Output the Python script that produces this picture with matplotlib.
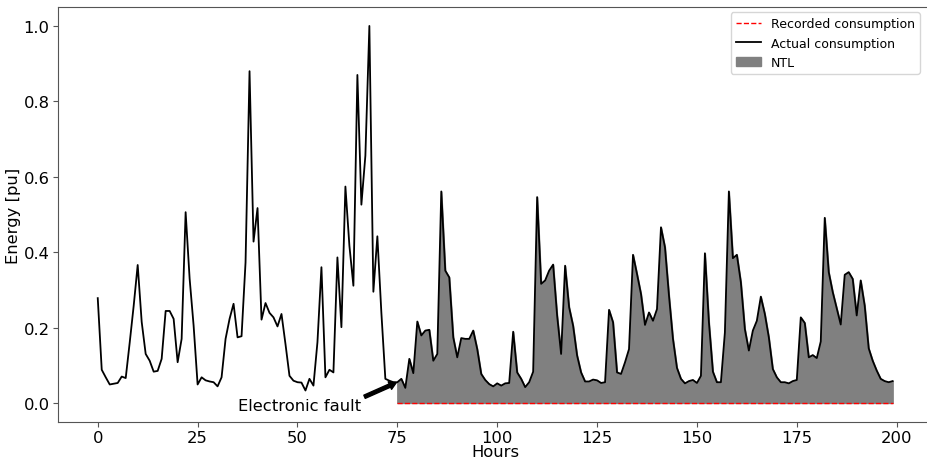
import numpy as np
import matplotlib
matplotlib.use('Agg')
import matplotlib.pyplot as plt

# actual consumption, hours 0..199
actual = [0.278, 0.088, 0.068, 0.049, 0.051, 0.053, 0.070, 0.066, 0.160, 0.258,
          0.366, 0.215, 0.130, 0.112, 0.083, 0.085, 0.117, 0.244, 0.244, 0.223,
          0.108, 0.170, 0.506, 0.330, 0.205, 0.049, 0.068, 0.060, 0.057, 0.055,
          0.044, 0.068, 0.170, 0.223, 0.263, 0.174, 0.177, 0.373, 0.880, 0.428,
          0.517, 0.221, 0.265, 0.239, 0.227, 0.203, 0.236, 0.156, 0.072, 0.059,
          0.055, 0.054, 0.033, 0.064, 0.046, 0.161, 0.360, 0.068, 0.088, 0.081,
          0.386, 0.201, 0.574, 0.417, 0.311, 0.870, 0.526, 0.656, 1.000, 0.295,
          0.442, 0.240, 0.064, 0.059, 0.055, 0.055, 0.064, 0.040, 0.117, 0.079,
          0.216, 0.179, 0.192, 0.194, 0.112, 0.130, 0.561, 0.351, 0.333, 0.174,
          0.121, 0.172, 0.170, 0.170, 0.192, 0.143, 0.077, 0.061, 0.050, 0.044,
          0.052, 0.046, 0.052, 0.053, 0.189, 0.081, 0.064, 0.042, 0.055, 0.083,
          0.546, 0.316, 0.325, 0.351, 0.367, 0.232, 0.130, 0.364, 0.254, 0.205,
          0.126, 0.081, 0.057, 0.057, 0.062, 0.060, 0.053, 0.055, 0.247, 0.214,
          0.081, 0.077, 0.108, 0.143, 0.393, 0.342, 0.289, 0.207, 0.240, 0.218,
          0.249, 0.466, 0.413, 0.285, 0.170, 0.093, 0.064, 0.052, 0.058, 0.061,
          0.053, 0.072, 0.397, 0.214, 0.083, 0.055, 0.055, 0.187, 0.561, 0.384,
          0.393, 0.320, 0.196, 0.139, 0.192, 0.218, 0.282, 0.236, 0.174, 0.090,
          0.068, 0.055, 0.055, 0.052, 0.058, 0.061, 0.227, 0.212, 0.121, 0.127,
          0.119, 0.163, 0.491, 0.347, 0.294, 0.251, 0.208, 0.340, 0.347, 0.329,
          0.232, 0.325, 0.258, 0.145, 0.112, 0.086, 0.064, 0.058, 0.055, 0.058]
hours = np.arange(len(actual))
actual = np.array(actual)

fault_hour = 75
recorded = np.zeros(len(actual) - fault_hour)

fs = 11.8

fig = plt.figure(figsize=(9.28, 4.6), dpi=100)
ax = fig.add_axes([58 / 928, 37.2 / 460, (932.4 - 58) / 928, 414.7 / 460])

ax.plot(hours[fault_hour:], recorded, 'r--', lw=1, label='Recorded consumption')
ax.plot(hours, actual, 'k-', lw=1.3, label='Actual consumption')
ax.fill_between(hours[fault_hour:], recorded, actual[fault_hour:], color='gray', label='NTL')

ax.annotate('Electronic fault', xy=(fault_hour, actual[fault_hour]), xytext=(35, -0.02),
            fontsize=fs,
            arrowprops=dict(facecolor='black', width=2.5, headwidth=6, headlength=5, shrink=0.03))

ax.set_xlabel('Hours', fontsize=fs, labelpad=-1)
ax.set_ylabel('Energy [pu]', fontsize=fs, labelpad=2)
ax.set_xticks([0, 25, 50, 75, 100, 125, 150, 175, 200])
ax.tick_params(labelsize=fs, color='#555555', pad=2.5)
for s in ax.spines.values():
    s.set_color('#555555')
ax.spines['right'].set_visible(False)

ax.legend(loc='upper right', bbox_to_anchor=(920 / 928, 1 - 13.3 / 460),
          bbox_transform=fig.transFigure, borderaxespad=0, fontsize=9)

fig.savefig('out.png', dpi=100)
